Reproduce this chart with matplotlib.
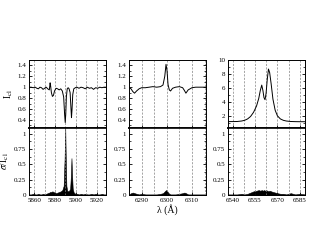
import numpy as np
import matplotlib
matplotlib.use('Agg')
import matplotlib.pyplot as plt
from matplotlib.ticker import MultipleLocator, FormatStrFormatter

plt.rcParams['font.family'] = 'Liberation Serif'
plt.rcParams['mathtext.fontset'] = 'stix'

# --- panel 1: Na D region ---
w1 = [5855, 5857, 5859, 5861, 5862.5, 5864, 5865.5, 5867, 5868.5, 5870, 5871.5, 5873,
      5874.5, 5875.3, 5875.8, 5876.5, 5877.5, 5878.5, 5879.5, 5881, 5882.5, 5884, 5885.5,
      5887, 5888.3, 5889.2, 5889.8, 5890.3, 5890.9, 5891.7, 5892.6, 5893.5, 5894.5, 5895.2,
      5895.8, 5896.3, 5897, 5898, 5899.5, 5901, 5903, 5905, 5907, 5909, 5911, 5913, 5915,
      5917, 5919, 5921, 5923, 5925, 5927, 5929]
i1 = [1.0, 1.0, 0.99, 1.0, 0.98, 0.97, 1.0, 0.99, 0.96, 0.98, 1.0, 0.97,
      0.95, 1.08, 1.02, 0.9, 0.83, 0.85, 0.93, 0.98, 0.97, 0.95, 0.97,
      0.93, 0.82, 0.5, 0.35, 0.5, 0.82, 0.97, 0.99, 0.97, 0.9, 0.65,
      0.44, 0.58, 0.86, 0.97, 0.99, 1.0, 0.98, 1.0, 0.99, 0.97, 1.0, 0.98, 0.99,
      0.96, 0.99, 0.98, 1.0, 0.99, 1.0, 1.0]
s1 = [0.01, 0.01, 0.02, 0.01, 0.01, 0.02, 0.01, 0.01, 0.02, 0.01, 0.02, 0.03,
      0.04, 0.05, 0.05, 0.05, 0.06, 0.05, 0.04, 0.03, 0.04, 0.05, 0.06,
      0.08, 0.15, 0.6, 1.1, 0.6, 0.15, 0.07, 0.06, 0.07, 0.1, 0.3,
      0.6, 0.35, 0.1, 0.04, 0.02, 0.02, 0.01, 0.02, 0.01, 0.02, 0.01, 0.01, 0.02,
      0.01, 0.02, 0.01, 0.01, 0.02, 0.01, 0.01]

# --- panel 2: [O I] 6300 ---
w2 = [6285, 6285.8, 6286.5, 6287.2, 6288, 6289, 6290, 6291.5, 6293, 6294.5, 6296,
      6297.5, 6298.5, 6299.2, 6299.7, 6300.1, 6300.5, 6301, 6301.5, 6302.3, 6303.5,
      6305, 6306.3, 6307, 6307.6, 6308.5, 6310, 6311.5, 6313.5, 6315.6]
i2 = [0.99, 0.97, 0.92, 0.89, 0.93, 0.97, 0.99, 0.99, 1.0, 1.01, 1.0,
      1.01, 1.04, 1.2, 1.42, 1.3, 1.05, 0.95, 0.93, 0.98, 1.0,
      1.01, 0.99, 0.94, 0.89, 0.95, 0.99, 1.0, 1.0, 1.0]
s2 = [0.01, 0.03, 0.04, 0.03, 0.02, 0.01, 0.02, 0.01, 0.01, 0.01, 0.01,
      0.02, 0.03, 0.06, 0.08, 0.07, 0.04, 0.02, 0.01, 0.01, 0.01,
      0.02, 0.03, 0.04, 0.03, 0.01, 0.01, 0.01, 0.01, 0.01]

# --- panel 3: H alpha ---
w3 = [6537, 6540, 6543, 6546, 6548, 6550, 6552, 6554, 6556, 6557.5, 6558.5, 6559.5,
      6560.3, 6561, 6561.7, 6562.4, 6563.2, 6564, 6564.8, 6565.8, 6567, 6568.5, 6570,
      6572, 6574, 6576, 6579, 6582, 6585, 6588.5]
i3 = [1.17, 1.17, 1.18, 1.25, 1.35, 1.55, 1.9, 2.5, 3.4, 4.5, 5.6, 6.4,
      5.6, 4.6, 4.3, 5.2, 7.2, 8.7, 8.2, 6.6, 4.4, 2.8, 2.0,
      1.55, 1.35, 1.25, 1.18, 1.16, 1.15, 1.15]
s3 = [0.01, 0.01, 0.01, 0.02, 0.01, 0.02, 0.04, 0.06, 0.07, 0.08, 0.07, 0.08,
      0.07, 0.08, 0.07, 0.08, 0.07, 0.06, 0.07, 0.06, 0.05, 0.04, 0.03,
      0.02, 0.02, 0.01, 0.03, 0.01, 0.02, 0.01]

xlims = [(5855, 5929), (6285, 6315.6), (6536.8, 6588.5)]
xmajor = [20, 10, 15]
xgrid = [10, 5, 7.5]
top_ylims = [(0.25, 1.5), (0.25, 1.5), (0.25, 10)]
top_major = [0.2, 0.2, 2]
top_minor = [0.1, 0.1, 1]

data = [(w1, i1, s1), (w2, i2, s2), (w3, i3, s3)]
lefts = [0.0915, 0.407, 0.719]

fig = plt.figure(figsize=(3.17, 2.45), dpi=100)

for k in range(3):
    w, fl, sg = data[k]
    axt = fig.add_axes([lefts[k], 0.4776, 0.243, 0.2776])
    axb = fig.add_axes([lefts[k], 0.204, 0.243, 0.2736])

    axt.plot(w, fl, color='black', lw=0.7)
    axb.fill_between(w, 0, sg, color='black', lw=0.4)

    for ax in (axt, axb):
        ax.set_xlim(*xlims[k])
        ax.xaxis.set_major_locator(MultipleLocator(xmajor[k]))
        ax.xaxis.set_minor_locator(MultipleLocator(xgrid[k]))
        ax.grid(axis='x', which='both', color='gray', ls=(0, (3, 2)), lw=0.5)
        ax.tick_params(which='both', direction='in', right=True, top=False,
                       labelsize=5, pad=2)
        ax.tick_params(which='major', length=2.5, width=0.6)
        ax.tick_params(which='minor', length=1.5, width=0.5)
        ax.tick_params(axis='x', which='minor', length=0)
        for sp in ax.spines.values():
            sp.set_linewidth(0.7)
        ax.yaxis.set_major_formatter(FormatStrFormatter('%g'))

    axt.set_ylim(*top_ylims[k])
    axt.yaxis.set_major_locator(MultipleLocator(top_major[k]))
    axt.yaxis.set_minor_locator(MultipleLocator(top_minor[k]))
    axt.tick_params(axis='x', labelbottom=False)
    axt.spines['bottom'].set_linewidth(1.2)

    axb.set_ylim(0, 1.09)
    axb.yaxis.set_major_locator(MultipleLocator(0.25))
    axb.yaxis.set_minor_locator(MultipleLocator(0.125))
    axb.spines['top'].set_linewidth(1.2)

    if k == 0:
        axt.set_ylabel(r'I$_{\rm cl}$', fontsize=7, labelpad=2)
        axb.set_ylabel(r'$\sigma$/I$_{\rm cl}$', fontsize=7, labelpad=2)
    if k == 1:
        axb.set_xlabel('λ (Å)', fontsize=7, labelpad=1)

fig.savefig('out.png', dpi=100)
